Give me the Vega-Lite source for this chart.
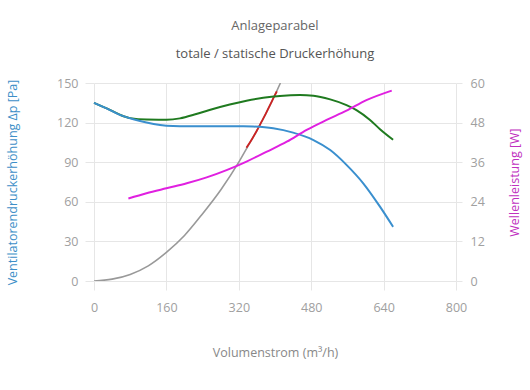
{
  "$schema": "https://vega.github.io/schema/vega-lite/v6.json",
  "width": 362,
  "height": 198,
  "autosize": "none",
  "padding": {"left": 94, "top": 83, "right": 74, "bottom": 109},
  "background": "white",
  "config": {
    "font": "Open Sans",
    "view": {"stroke": null},
    "axis": {
      "labelFont": "Open Sans",
      "titleFont": "Open Sans",
      "labelFontSize": 12.5,
      "titleFontSize": 12.5,
      "titleFontWeight": "normal",
      "labelColor": "#a0a0a0",
      "gridColor": "#e6e6e6",
      "tickColor": "#e6e6e6",
      "domain": false,
      "labelOverlap": false,
      "labelFlush": false,
      "labelBound": false
    }
  },
  "title": {
    "text": "Anlageparabel",
    "subtitle": "totale / statische Druckerhöhung",
    "anchor": "middle",
    "frame": "group",
    "font": "Open Sans",
    "fontSize": 13,
    "fontWeight": "normal",
    "color": "#666666",
    "subtitleFont": "Open Sans",
    "subtitleFontSize": 13,
    "subtitleColor": "#555555",
    "subtitlePadding": 15,
    "offset": 16
  },
  "layer": [
    {
      "encoding": {
        "x": {"field": "q", "type": "quantitative", "scale": {"domain": [0, 800], "nice": false},
          "axis": {"title": "Volumenstrom (m³/h)", "values": [0, 80, 160, 240, 320, 400, 480, 560, 640, 720, 800],
            "labelExpr": "datum.value % 160 == 0 ? datum.label : ''", "tickSize": 9, "labelPadding": 11,
            "titlePadding": 33, "titleColor": "#888888", "grid": true}},
        "y": {"field": "dp", "type": "quantitative", "scale": {"domain": [0, 150], "nice": false},
          "axis": {"title": "Ventilatorendruckerhöhung Δp [Pa]", "values": [0, 30, 60, 90, 120, 150], "tickSize": 9,
            "labelPadding": 7, "titlePadding": 37, "titleColor": "#3d8fc8", "grid": true}}
      },
      "layer": [
        {
          "data": {"values": [
            {"q": 0, "dp": 0}, {"q": 40, "dp": 1.4}, {"q": 80, "dp": 5}, {"q": 120, "dp": 11.5},
            {"q": 160, "dp": 21.7}, {"q": 200, "dp": 34.5}, {"q": 240, "dp": 51}, {"q": 280, "dp": 69},
            {"q": 320, "dp": 90}, {"q": 340, "dp": 102}, {"q": 360, "dp": 114}, {"q": 380, "dp": 127},
            {"q": 400, "dp": 141}, {"q": 412, "dp": 150}
          ]},
          "mark": {"type": "line", "color": "#999999", "strokeWidth": 1.6, "interpolate": "monotone", "clip": true}
        },
        {
          "data": {"values": [
            {"q": 337, "dp": 101}, {"q": 350, "dp": 108}, {"q": 360, "dp": 114}, {"q": 370, "dp": 120.5},
            {"q": 380, "dp": 127}, {"q": 390, "dp": 134}, {"q": 400, "dp": 141}, {"q": 404, "dp": 143.6}
          ]},
          "mark": {"type": "line", "color": "#cc2222", "strokeWidth": 1.8, "interpolate": "monotone", "clip": true}
        },
        {
          "data": {"values": [
            {"q": 0, "dp": 135}, {"q": 28, "dp": 130.8}, {"q": 57, "dp": 126}, {"q": 80, "dp": 123.4},
            {"q": 116, "dp": 122.3}, {"q": 160, "dp": 122.2}, {"q": 190, "dp": 123.2}, {"q": 226, "dp": 126.5},
            {"q": 263, "dp": 130.3}, {"q": 300, "dp": 133.7}, {"q": 337, "dp": 136.6}, {"q": 374, "dp": 138.8},
            {"q": 411, "dp": 140.2}, {"q": 455, "dp": 140.9}, {"q": 485, "dp": 140.4}, {"q": 522, "dp": 137.6},
            {"q": 558, "dp": 133.3}, {"q": 580, "dp": 129.5}, {"q": 610, "dp": 122}, {"q": 632, "dp": 115},
            {"q": 661, "dp": 107}
          ]},
          "mark": {"type": "line", "color": "#1f7a1f", "strokeWidth": 2, "interpolate": "monotone"}
        },
        {
          "data": {"values": [
            {"q": 0, "dp": 135}, {"q": 28, "dp": 130.8}, {"q": 57, "dp": 125.8}, {"q": 87, "dp": 122.5},
            {"q": 116, "dp": 120}, {"q": 146, "dp": 118.2}, {"q": 175, "dp": 117.4}, {"q": 205, "dp": 117.2},
            {"q": 263, "dp": 117.2}, {"q": 330, "dp": 117.2}, {"q": 352, "dp": 117}, {"q": 396, "dp": 115.7},
            {"q": 440, "dp": 112.4}, {"q": 485, "dp": 106.8}, {"q": 522, "dp": 99.2}, {"q": 558, "dp": 88},
            {"q": 595, "dp": 74}, {"q": 632, "dp": 56.3}, {"q": 661, "dp": 41}
          ]},
          "mark": {"type": "line", "color": "#3a8fce", "strokeWidth": 2, "interpolate": "monotone"}
        }
      ]
    },
    {
      "data": {"values": [
        {"q": 76, "p": 25}, {"q": 116, "p": 26.6}, {"q": 160, "p": 28.1}, {"q": 205, "p": 29.6},
        {"q": 249, "p": 31.4}, {"q": 293, "p": 33.6}, {"q": 337, "p": 36.2}, {"q": 382, "p": 39.2},
        {"q": 426, "p": 42.2}, {"q": 470, "p": 45.8}, {"q": 514, "p": 48.8}, {"q": 558, "p": 51.6},
        {"q": 602, "p": 54.8}, {"q": 658, "p": 57.7}
      ]},
      "mark": {"type": "line", "color": "#e020e0", "strokeWidth": 2, "interpolate": "monotone"},
      "encoding": {
        "x": {"field": "q", "type": "quantitative"},
        "y": {"field": "p", "type": "quantitative", "scale": {"domain": [0, 60], "nice": false},
          "axis": {"orient": "right", "title": "Wellenleistung [W]", "values": [0, 12, 24, 36, 48, 60], "grid": false,
            "tickSize": 6, "labelPadding": 8, "titlePadding": 37, "titleColor": "#c030c0", "titleAngle": 270}}
      }
    }
  ],
  "resolve": {"scale": {"y": "independent"}}
}
